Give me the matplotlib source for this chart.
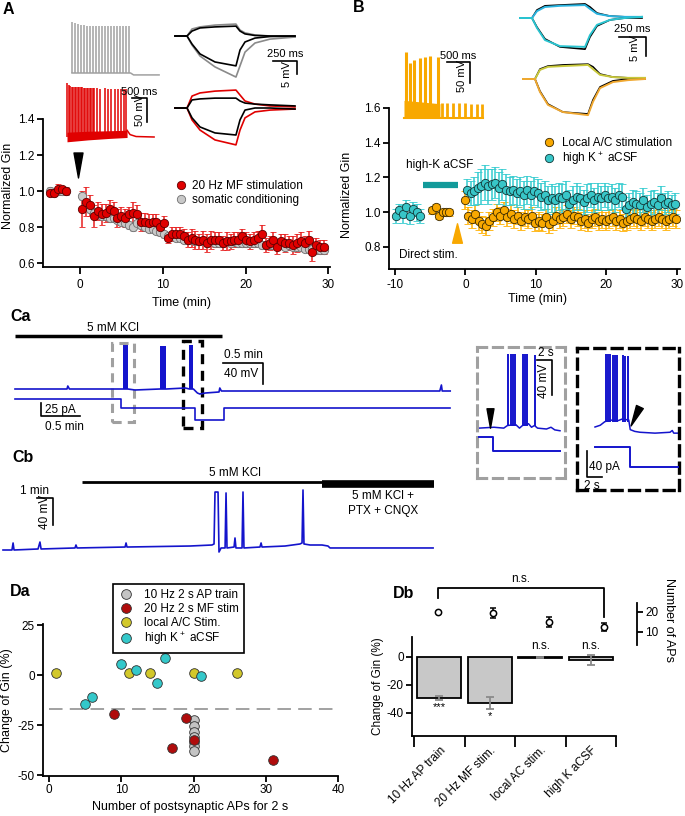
import numpy as np
import matplotlib
matplotlib.use('Agg')
import matplotlib.pyplot as plt
from matplotlib.lines import Line2D
from matplotlib.markers import MarkerStyle
from matplotlib.path import Path
from matplotlib.transforms import Affine2D

plt.rcParams['font.family'] = ['Liberation Sans', 'DejaVu Sans']
plt.rcParams['font.size'] = 8.5
plt.rcParams['mathtext.default'] = 'regular'
plt.rcParams['axes.unicode_minus'] = False
plt.rcParams['axes.linewidth'] = 1.3
plt.rcParams['xtick.major.width'] = 1.3
plt.rcParams['ytick.major.width'] = 1.3
plt.rcParams['xtick.major.size'] = 4
plt.rcParams['ytick.major.size'] = 4

# === A: normalized Gin (20 Hz MF vs somatic conditioning) ===
a_pre_t = [-3.65, -3.15, -2.65, -2.15, -1.65]
a_mf_pre = [0.99, 0.99, 1.01, 1.01, 1.00]
a_mf_pre_err = [0.02, 0.02, 0.03, 0.02, 0.02]
a_som_pre = [1.00, 0.99, 1.00, 1.00, 1.00]
a_mf_post = [
    0.90, 0.94, 0.92, 0.86, 0.89, 0.87, 0.88, 0.90, 0.89, 0.85,
    0.86, 0.85, 0.87, 0.88, 0.87, 0.83, 0.83, 0.82, 0.83, 0.83,
    0.80, 0.82, 0.74, 0.76, 0.76, 0.76, 0.75, 0.73, 0.74, 0.73,
    0.72, 0.73, 0.71, 0.73, 0.73, 0.73, 0.71, 0.72, 0.72, 0.73,
    0.73, 0.75, 0.73, 0.72, 0.73, 0.74, 0.76, 0.70, 0.71, 0.73,
    0.69, 0.72, 0.71, 0.71, 0.70, 0.71, 0.72, 0.71, 0.73, 0.66,
    0.70, 0.69, 0.69]
a_mf_post_err = [
    0.10, 0.08, 0.06, 0.06, 0.05, 0.06, 0.05, 0.05, 0.05, 0.05,
    0.05, 0.05, 0.04, 0.06, 0.05, 0.05, 0.05, 0.05, 0.04, 0.04,
    0.04, 0.04, 0.03, 0.04, 0.04, 0.04, 0.04, 0.04, 0.05, 0.05,
    0.04, 0.05, 0.05, 0.05, 0.04, 0.04, 0.04, 0.05, 0.04, 0.04,
    0.04, 0.04, 0.04, 0.04, 0.04, 0.04, 0.05, 0.04, 0.04, 0.04,
    0.04, 0.04, 0.05, 0.04, 0.05, 0.05, 0.05, 0.04, 0.05, 0.05,
    0.04, 0.04, 0.04]
a_som_post = [
    0.97, 0.93, 0.90, 0.88, 0.87, 0.86, 0.86, 0.85, 0.85, 0.84,
    0.83, 0.82, 0.81, 0.80, 0.82, 0.81, 0.80, 0.79, 0.79, 0.78,
    0.77, 0.76, 0.75, 0.75, 0.74, 0.74, 0.73, 0.73, 0.73, 0.72,
    0.72, 0.72, 0.71, 0.72, 0.71, 0.71, 0.71, 0.72, 0.71, 0.72,
    0.71, 0.71, 0.71, 0.71, 0.71, 0.71, 0.70, 0.70, 0.70, 0.70,
    0.70, 0.70, 0.69, 0.70, 0.69, 0.69, 0.69, 0.68, 0.68, 0.68,
    0.67, 0.67, 0.67]
a_som_err = 0.02

# A insets: spike trains (ms, mV above baseline)
a_gray_spk_t = [0, 100, 200, 300, 400, 500, 600, 700, 800, 900,
                1000, 1100, 1200, 1300, 1400, 1500, 1600, 1700, 1800, 1900]
a_gray_spk_v = [106, 103, 101, 100, 99, 98, 98, 97, 97, 97,
                97, 97, 97, 97, 97, 97, 97, 97, 97, 97]
a_gray_base_t = [0, 1950, 2050, 2900]
a_gray_base_v = [0, 0, -4, -4]
a_red_spk_t = [0, 50, 100, 150, 200, 250, 300, 350, 400, 450, 500, 550, 600,
               650, 700, 750, 800, 850, 900, 1000, 1100, 1250, 1380, 1480,
               1600, 1700, 1800, 1900, 1960]
a_red_spk_v = [112, 108, 106, 105, 104, 104, 103, 103, 103, 103, 103, 102, 102,
               102, 102, 102, 101, 101, 101, 101, 100, 101, 100, 100,
               100, 100, 100, 99, 99]
a_red_band_t = [0, 700, 1400, 2000]
a_red_band_lo = [-10, -6, -3, -1]
a_red_band_hi = [10, 12, 13, 14]
a_red_tail_t = [2000, 2100, 2300, 2900]
a_red_tail_v = [14, 5, 1, 0]

# A insets: step responses (ms, mV)
a_step_t = [0, 125, 177, 260, 416, 634, 676, 728, 832, 988, 1248]
a_gray_up = [0, 0, 2.7, 3.5, 4.2, 4.6, 2.3, 1.2, 0.4, 0, -0.4]
a_gray_dn = [0, 0, -3.5, -7.7, -11.9, -15.8, -11.5, -6.2, -2.7, -1.2, -0.4]
a_ctl1_up = [0, 0, 1.9, 3.1, 3.5, 3.8, 1.9, 0.8, 0.2, 0, 0]
a_ctl1_dn = [0, 0, -3.1, -6.9, -10.0, -11.5, -5.4, -2.3, -0.8, -0.2, 0]
a_red_up = [0, 0, 4.6, 5.8, 6.5, 6.9, 5.0, 2.7, 1.5, 0.8, 0.4]
a_red_dn = [0, 0, -4.6, -8.5, -12.3, -14.2, -8.5, -3.8, -1.5, -0.8, -0.4]
a_ctl2_up = [0, 0, 3.1, 3.5, 3.8, 3.8, 2.7, 1.9, 1.5, 1.2, 0.8]
a_ctl2_dn = [0, 0, -3.8, -7.3, -9.6, -10.4, -4.6, -0.8, 0, 0, -0.4]

# === B: local A/C stimulation vs high K+ aCSF ===
b_cyan_pre = [0.98, 1.01, 0.99, 1.03, 0.98, 1.02, 1.00, 0.98]
b_cyan_pre_err = [0.04, 0.04, 0.05, 0.04, 0.05, 0.04, 0.05, 0.04]
b_orange_pre = [1.01, 1.03, 0.98, 1.00, 1.00, 1.00]
b_orange_pre_err = [0.02, 0.02, 0.02, 0.02, 0.02, 0.02]
b_cyan_post = [
    1.13, 1.11, 1.12, 1.14, 1.15, 1.17, 1.15, 1.16, 1.17, 1.14,
    1.16, 1.13, 1.12, 1.13, 1.11, 1.12, 1.10, 1.13, 1.10, 1.12,
    1.11, 1.09, 1.10, 1.07, 1.08, 1.07, 1.09, 1.08, 1.10, 1.05,
    1.07, 1.09, 1.08, 1.06, 1.08, 1.10, 1.07, 1.09, 1.08, 1.10,
    1.08, 1.09, 1.07, 1.10, 1.09, 1.02, 1.04, 1.06, 1.05, 1.04,
    1.07, 1.03, 1.05, 1.06, 1.04, 1.08, 1.05, 1.06, 1.04, 1.05]
b_cyan_post_err = [
    0.06, 0.07, 0.08, 0.09, 0.10, 0.10, 0.10, 0.09, 0.09, 0.09,
    0.09, 0.09, 0.08, 0.08, 0.08, 0.08, 0.08, 0.08, 0.08, 0.08,
    0.08, 0.08, 0.08, 0.08, 0.08, 0.08, 0.08, 0.08, 0.08, 0.08,
    0.08, 0.08, 0.07, 0.07, 0.08, 0.07, 0.07, 0.08, 0.07, 0.07,
    0.07, 0.07, 0.07, 0.07, 0.07, 0.07, 0.07, 0.07, 0.07, 0.07,
    0.07, 0.07, 0.07, 0.07, 0.07, 0.07, 0.06, 0.06, 0.06, 0.06]
b_orange_post = [
    1.07, 0.98, 0.96, 0.99, 0.95, 0.93, 0.92, 0.95, 0.97, 1.00,
    0.98, 1.01, 0.97, 0.99, 0.96, 0.98, 0.95, 0.97, 0.96, 0.98,
    0.94, 0.95, 0.94, 0.97, 0.93, 0.95, 0.98, 0.96, 0.97, 0.99,
    0.96, 0.98, 0.97, 0.95, 0.96, 0.94, 0.96, 0.97, 0.95, 0.96,
    0.95, 0.96, 0.97, 0.95, 0.96, 0.94, 0.95, 0.96, 0.97, 0.96,
    0.95, 0.97, 0.96, 0.95, 0.96, 0.97, 0.96, 0.95, 0.96, 0.97,
    0.96]
b_orange_post_err = 0.05
b_highk_period = (-6.0, -1.0)

# B insets
b_spk_t = [43, 130, 217, 348, 456, 564, 738]
b_spk_v = [157, 131, 138, 143, 145, 148, 145]
b_band_t = [0, 780]
b_band_v = [42, 34]
b_osc_t = [825, 933, 1063, 1193, 1324, 1454, 1584, 1693]
b_osc_v = [36, 36, 35, 35, 35, 34, 34, 34]
b_step_t = [0, 111, 157, 231, 370, 602, 648, 713, 833, 972, 1130]
b_cyan_up = [0, 0, 1.8, 2.9, 3.2, 3.4, 2.4, 1.1, 0.5, 0.3, 0.3]
b_ctl1_up = [0, 0, 2.1, 3.2, 3.4, 3.7, 2.9, 1.3, 0.5, 0.3, 0.3]
b_cyan_dn = [0, 0, -2.6, -5.8, -7.4, -7.6, -4.5, -1.8, -0.5, 0, 0.3]
b_ctl1_dn = [0, 0, -2.4, -5.5, -7.6, -8.2, -5.0, -2.1, -0.5, 0, 0]
b_yel_up = [0, 0, 2.4, 3.2, 3.4, 3.7, 2.6, 1.1, 0.5, 0.3, 0.3]
b_ctl2_up = [0, 0, 2.6, 3.4, 3.7, 3.9, 3.2, 1.3, 0.5, 0.3, 0]
b_org_dn = [0, 0, -3.4, -6.8, -8.7, -9.5, -6.0, -2.4, -0.8, -0.3, 0]
b_ctl2_dn = [0, 0, -3.2, -6.6, -8.7, -9.2, -5.5, -2.1, -0.5, 0, 0]

# === Ca: high K trace (min, mV / pA) ===
ca_v_t = [0, 0.65, 0.66, 0.68, 1.19, 1.35, 1.41, 1.50, 1.81, 1.89, 2.13, 2.18,
          2.23, 2.28, 2.31, 2.38, 2.55, 2.56, 2.58, 2.60, 3.56, 5.31, 5.33, 5.34, 5.44]
ca_v = [0, 0, 5.7, 0, 0, 0, 0, -1.9, 0, 0, 1.9, 0,
        0, -7.6, -9.5, -7.6, -5.7, 1.9, -3.8, -3.8, -3.8, -3.8, 7.6, -3.8, -3.8]
ca_burst_start = [1.35, 1.81, 2.18]
ca_burst_end = [1.41, 1.89, 2.23]
ca_burst_peak = [84, 82, 84]
ca_i_t = [0, 1.325, 1.325, 2.25, 2.25, 2.61, 2.61, 5.44]
ca_i = [0, 0, -17, -17, -40, -40, -17, -17]
ca_kcl = (0, 2.59)
ca_zoom_gray = (1.21, 1.49)
ca_zoom_black = (2.10, 2.34)

# Ca zoomed insets (s, mV / pA)
cz1_base_t = [0, 2.0, 3.3, 3.8, 4.9, 5.4, 5.8, 6.6, 7.0, 7.4, 7.8, 9.0, 9.6, 10.1, 10.8]
cz1_base_v = [1, 2, 1, 4, 5, 1, 4, 6, 2, 4, 1, 0, 2, -1, -2]
cz1_spk_t = [3.87, 4.27, 4.53, 4.80, 5.87, 6.13, 6.40, 7.47]
cz1_spk_v = [86, 86, 85, 85, 86, 86, 85, 84]
cz1_i_t = [0, 1.87, 1.87, 10.8]
cz1_i = [0, 0, -21, -21]
cz2_base_t = [0, 0.7, 1.3, 2.0, 3.0, 3.6, 4.5, 4.7, 5.3, 6.0, 8.0, 10.0, 10.3, 10.5, 11.0]
cz2_base_v = [0, 2, 6, 8, 7, 9, 8, -3, -5, -6, -7, -6, -4, -7, -7]
cz2_spk_t = [1.47, 1.73, 2.00, 2.40, 2.67, 2.93, 3.73, 4.00, 4.40]
cz2_spk_v = [83, 83, 83, 82, 82, 82, 82, 81, 81]
cz2_i_t = [0, 4.67, 4.67, 11.0]
cz2_i = [0, 0, -31, -31]

# === Cb: trace (min, mV) ===
cb_t = [0, 0.56, 0.63, 0.69, 2.19, 2.31, 2.38, 4.5, 4.56, 4.63, 7.63, 7.69, 7.75,
        11.69, 13.06, 13.19, 13.25, 13.44, 13.5, 13.63, 13.88, 13.94, 14.0, 14.44,
        14.5, 14.56, 14.94, 15.0, 15.06, 16.06, 16.13, 16.19, 17.63, 18.56, 18.69,
        18.75, 18.81, 19.19, 19.94, 20.31, 20.44, 26.88]
cb_v = [0, 0, 10.4, 0, 1.5, 11.8, 1.5, 3.0, 7.4, 3.0, 4.4, 10.4, 4.4,
        5.9, 7.4, 8.9, 85.8, 85.8, -3.0, 3.0, 3.0, 84.4, 3.0, 4.4,
        17.8, 3.0, 3.0, 85.8, 3.0, 4.4, 10.4, 4.4, 5.9, 8.9, 10.4,
        88.8, 8.9, 7.4, 7.4, 5.9, 3.0, 3.0]
cb_kcl = (4.94, 19.94)
cb_kcl_ptx = (19.94, 26.94)

# === Da: scatter ===
da_ap_gray = [20, 20, 20, 20, 20, 20, 20]
da_gin_gray = [-22.5, -25.3, -28.3, -30.8, -33.3, -35.3, -37.8]
da_ap_red = [9, 19, 20, 17, 31]
da_gin_red = [-19.5, -21.5, -32.5, -36.5, -42.5]
da_ap_yel = [1, 11, 14, 20, 26]
da_gin_yel = [0.8, 0.8, 0.8, 0.8, 0.8]
da_ap_cyan = [10, 12, 16, 15, 21, 5, 6]
da_gin_cyan = [5.3, 2.5, 8.3, -3.8, -0.3, -14.7, -10.8]
da_threshold = -17

# === Db: bars ===
db_groups = ['10 Hz AP train', '20 Hz MF stim.', 'local AC stim.', 'high K aCSF']
db_change = [-29.3, -32.9, -0.7, -2.3]
db_change_err = [1.5, 4.5, 0.4, 3.5]
db_sig = ['***', '*', 'n.s.', 'n.s.']
db_aps = [20, 19.5, 15, 12.5]
db_aps_err = [0, 2.5, 2.5, 1.8]

# ---------------------------------------------------------------
W, H = 685, 816
fig = plt.figure(figsize=(W / 100, H / 100), dpi=100)

BLUE = '#1414CC'
RED = '#E00000'
ORANGE = '#F8A800'
CYAN = '#38C6C8'


def box(x0, y0, x1, y1):
    return fig.add_axes([x0 / W, 1 - y1 / H, (x1 - x0) / W, (y1 - y0) / H])


def inset(x0, y0, x1, y1, tx, vy, sx, sy):
    # sx, sy = data units per pixel, (tx, vy) = pixel of data origin
    ax = box(x0, y0, x1, y1)
    ax.set_xlim((x0 - tx) * sx, (x1 - tx) * sx)
    ax.set_ylim((vy - y1) * sy, (vy - y0) * sy)
    ax.axis('off')
    ax.patch.set_visible(False)
    return ax


def label(x, y, s):
    fig.text(x / W, 1 - y / H, s, fontsize=11.5, fontweight='bold', va='center', ha='left')


def style_axes(ax):
    for s in ['top', 'right']:
        ax.spines[s].set_visible(False)
    ax.tick_params(direction='out', length=4, labelsize=8.5, pad=2)


arrow_path = Path([(-0.36, 1), (0.36, 1), (0, -1), (-0.36, 1)],
                  [Path.MOVETO, Path.LINETO, Path.LINETO, Path.CLOSEPOLY])


def arrow(rot=0):
    return MarkerStyle(arrow_path, transform=Affine2D().rotate_deg(rot))


# ---------------- Panel A ----------------
label(3, 9, 'A')
axA = box(43, 119, 330, 267)
style_axes(axA)
axA.tick_params(axis='x', length=5, pad=4)
t_post = np.linspace(0.3, 29.5, len(a_mf_post))
eb = dict(fmt='o', ms=6, capsize=2.5, elinewidth=1.1, capthick=1.1, mew=0.6)
axA.errorbar(a_pre_t, a_som_pre, yerr=a_som_err, color='#A8A8A8', mfc='#C8C8C8',
             mec='#707070', **eb)
axA.errorbar(t_post, a_som_post, yerr=a_som_err, color='#A8A8A8', mfc='#C8C8C8',
             mec='#707070', **eb)
axA.errorbar(a_pre_t, a_mf_pre, yerr=a_mf_pre_err, color='#E82020', mfc=RED,
             mec='#600000', **eb)
axA.errorbar(t_post, a_mf_post, yerr=a_mf_post_err, color='#E82020', mfc=RED,
             mec='#600000', **eb)
axA.plot(-0.2, 1.145, marker=arrow(), ms=18, color='k', ls='none', clip_on=False)
axA.set_xlim(-4.45, 30.2)
axA.set_ylim(0.578, 1.4)
axA.set_xticks([0, 10, 20, 30])
axA.set_yticks([0.6, 0.8, 1.0, 1.2, 1.4])
axA.set_yticklabels(['0.6', '0.8', '1.0', '1.2', '1.4'])
axA.set_xlabel('Time (min)', fontsize=9)
axA.xaxis.set_label_coords(0.484, -0.2)
axA.set_ylabel('Normalized Gin', fontsize=9)
axA.yaxis.set_label_coords(-0.1, 0.55)
hA = [Line2D([], [], marker='o', ls='none', ms=6, mfc=RED, mec='#600000', mew=0.6),
      Line2D([], [], marker='o', ls='none', ms=6, mfc='#C8C8C8', mec='#707070', mew=0.6)]
fig.legend(hA, ['20 Hz MF stimulation', 'somatic conditioning'], loc='upper left',
           bbox_to_anchor=(170 / W, 1 - 175 / H), frameon=False, fontsize=8.5,
           handlelength=1.0, handletextpad=0.5, labelspacing=0.2, borderaxespad=0)

# A inset: spike trains
ins = inset(66, 15, 165, 80, 72, 73, 33.3, 2.08)
ins.vlines(a_gray_spk_t, 0, a_gray_spk_v, color='#A0A0A0', lw=1.1)
ins.plot(a_gray_base_t, a_gray_base_v, color='#A0A0A0', lw=1.1)
ins = inset(62, 78, 170, 150, 67, 137, 33.3, 2.08)
ins.fill_between(a_red_band_t, a_red_band_lo, a_red_band_hi, color=RED, lw=0)
ins.vlines(a_red_spk_t, 0, a_red_spk_v, color=RED, lw=1.1)
ins.plot(a_red_tail_t, a_red_tail_v, color=RED, lw=1.1)
ins.plot([2165, 2665, 2665], [81, 81, 31], color='k', lw=1.2)
ins.text(2415, 84, '500 ms', ha='center', va='bottom', fontsize=8)
ins.text(2590, 56, '50 mV', ha='right', va='center', rotation=90, fontsize=8)

# A inset: step responses
ins = inset(170, 15, 300, 84, 175, 36, 10.4, 0.385)
for v, c in [(a_gray_up, '#8A8A8A'), (a_gray_dn, '#8A8A8A'),
             (a_ctl1_up, 'k'), (a_ctl1_dn, 'k')]:
    ins.plot(a_step_t, v, color=c, lw=1.2)
ins.plot([1019, 1269, 1269], [-9.6, -9.6, -14.6], color='k', lw=1.2)
ins.text(1144, -8.8, '250 ms', ha='center', va='bottom', fontsize=8)
ins.text(1215, -14.5, '5 mV', ha='right', va='center', rotation=90, fontsize=8)
ins = inset(170, 84, 300, 150, 175, 108, 10.4, 0.385)
for v, c in [(a_red_up, RED), (a_red_dn, RED), (a_ctl2_up, 'k'), (a_ctl2_dn, 'k')]:
    ins.plot(a_step_t, v, color=c, lw=1.2)

# ---------------- Panel B ----------------
label(353, 8, 'B')
axB = box(389, 108, 680, 269)
style_axes(axB)
axB.tick_params(axis='x', length=4.5, pad=3)
t_cpre = np.linspace(-9.9, -6.4, len(b_cyan_pre))
t_opre = np.linspace(-4.7, -2.3, len(b_orange_pre))
t_cpost = np.linspace(0.25, 29.75, len(b_cyan_post))
t_opost = np.linspace(-0.1, 29.9, len(b_orange_post))
ebB = dict(fmt='o', ms=6, capsize=2.8, elinewidth=1.1, capthick=1.1, mew=0.6)
axB.errorbar(t_opre, b_orange_pre, yerr=b_orange_pre_err, color='#FFB000', mfc=ORANGE,
             mec='#3A2A00', **ebB)
axB.errorbar(t_opost, b_orange_post, yerr=b_orange_post_err, color='#FFB000', mfc=ORANGE,
             mec='#3A2A00', **ebB)
axB.errorbar(t_cpre, b_cyan_pre, yerr=b_cyan_pre_err, color='#36CCD0', mfc=CYAN,
             mec='#123838', **ebB)
axB.errorbar(t_cpost, b_cyan_post, yerr=b_cyan_post_err, color='#36CCD0', mfc=CYAN,
             mec='#123838', **ebB)
axB.plot(b_highk_period, [1.157, 1.157], color='#129A9A', lw=4.5, solid_capstyle='butt')
axB.text(-3.6, 1.27, 'high-K aCSF', ha='center', va='center', fontsize=8.5)
axB.text(-5.3, 0.754, 'Direct stim.', ha='center', va='center', fontsize=8.5)
axB.plot(-1.2, 0.88, marker=MarkerStyle(arrow_path, transform=Affine2D().rotate_deg(180).scale(1.4, 1)),
         ms=14, color=ORANGE, ls='none')
axB.set_xlim(-10.85, 30.43)
axB.set_ylim(0.673, 1.6)
axB.set_xticks([-10, 0, 10, 20, 30])
axB.set_yticks([0.8, 1.0, 1.2, 1.4, 1.6])
axB.set_yticklabels(['0.8', '1.0', '1.2', '1.4', '1.6'])
axB.set_xlabel('Time (min)', fontsize=9)
axB.xaxis.set_label_coords(0.509, -0.15)
axB.set_ylabel('Normalized Gin', fontsize=9)
axB.yaxis.set_label_coords(-0.125, 0.46)
hB = [Line2D([], [], marker='o', ls='none', ms=6, mfc=ORANGE, mec='#3A2A00', mew=0.6),
      Line2D([], [], marker='o', ls='none', ms=6, mfc=CYAN, mec='#123838', mew=0.6)]
fig.legend(hB, ['Local A/C stimulation', 'high K$^+$ aCSF'], loc='upper left',
           bbox_to_anchor=(538 / W, 1 - 132 / H), frameon=False, fontsize=8.5,
           handlelength=1.0, handletextpad=0.6, labelspacing=0.15, borderaxespad=0)

# B insets
ins = inset(400, 45, 492, 122, 404, 118, 21.7, 2.38)
ins.fill_between(b_band_t, 0, b_band_v, color=ORANGE, lw=0)
ins.vlines(b_spk_t, 0, b_spk_v, color=ORANGE, lw=2.2)
ins.vlines(b_osc_t, 0, b_osc_v, color=ORANGE, lw=2.0)
ins.plot([0, 1720], [0, 0], color=ORANGE, lw=1.5)
ins.plot([933, 1433, 1433], [133, 133, 83], color='k', lw=1.2)
ins.text(1183, 136, '500 ms', ha='center', va='bottom', fontsize=8)
ins.text(1360, 100, '50 mV', ha='right', va='center', rotation=90, fontsize=8)

ins = inset(515, 0, 652, 60, 520, 18, 9.26, 0.263)
ins.plot(b_step_t, b_ctl1_up, color='k', lw=1.2)
ins.plot(b_step_t, b_ctl1_dn, color='k', lw=1.2)
ins.plot(b_step_t, b_cyan_up, color='#2AB4E0', lw=1.4)
ins.plot(b_step_t, b_cyan_dn, color='#2AC4D0', lw=1.4)
ins.plot([917, 1167, 1167], [-5.0, -5.0, -10.0], color='k', lw=1.2)
ins.text(1042, -4.3, '250 ms', ha='center', va='bottom', fontsize=8)
ins.text(1115, -7.8, '5 mV', ha='right', va='center', rotation=90, fontsize=8)
ins = inset(518, 60, 652, 122, 523, 79, 9.26, 0.263)
ins.plot(b_step_t, b_ctl2_up, color='k', lw=1.2)
ins.plot(b_step_t, b_ctl2_dn, color='k', lw=1.2)
ins.plot(b_step_t, b_yel_up, color='#C8C83A', lw=1.4)
ins.plot(b_step_t, b_org_dn, color='#F0A830', lw=1.4)

# ---------------- Panel Ca ----------------
label(10, 317, 'Ca')
axCv = inset(10, 325, 455, 440, 15, 389, 1 / 80, 1.9)
axCi = inset(10, 325, 455, 440, 15, 399, 1 / 80, 1.92)
axCv.plot(ca_kcl, [100.7, 100.7], color='k', lw=2.5, solid_capstyle='butt')
axCv.text(1.23, 116, '5 mM KCl', ha='center', va='center', fontsize=8.5)
axCv.plot(ca_v_t, ca_v, color=BLUE, lw=1.2)
for s, e, p in zip(ca_burst_start, ca_burst_end, ca_burst_peak):
    axCv.fill_between([s, e], 0, p, color=BLUE, lw=0)
axCi.plot(ca_i_t, ca_i, color=BLUE, lw=1.2)
axCv.axvspan(*ca_zoom_gray, ymin=0.157, ymax=0.843, fill=False, ec='#A0A0A0', lw=2.2,
             ls=(0, (3, 2)))
axCv.axvspan(*ca_zoom_black, ymin=0.104, ymax=0.861, fill=False, ec='k', lw=2.4,
             ls=(0, (3, 2)))
axCv.plot([2.6, 3.1, 3.1], [49.4, 49.4, 9.4], color='k', lw=1.2)
axCv.text(2.85, 53, '0.5 min', ha='center', va='bottom', fontsize=8.5)
axCv.text(3.04, 28.5, '40 mV', ha='right', va='center', fontsize=8.5)
axCi.plot([0.325, 0.325, 0.81], [-7.6, -32.6, -32.6], color='k', lw=1.2)
axCi.text(0.38, -21, '25 pA', ha='left', va='center', fontsize=8.5)
axCi.text(0.38, -54, '0.5 min', ha='left', va='center', fontsize=8.5)

# Ca zoom insets
z1 = box(477, 347, 565, 478)
z1.set_xticks([])
z1.set_yticks([])
z1.patch.set_visible(False)
for s in z1.spines.values():
    s.set_linestyle((0, (3, 2.2)))
    s.set_edgecolor('#A0A0A0')
    s.set_linewidth(2.2)
z1.set_xlim((477 - 479) / 7.5, (565 - 479) / 7.5)
z1.set_ylim((429 - 478) * 1.14, (429 - 347) * 1.14)
z1i = inset(477, 347, 565, 478, 479, 437, 1 / 7.5, 1.54)
z1.plot(cz1_base_t, cz1_base_v, color=BLUE, lw=1.1)
z1.vlines(cz1_spk_t, 3, cz1_spk_v, color=BLUE, lw=1.4)
z1.plot(1.47, 13, marker=arrow(), ms=14, color='k', ls='none')
z1i.plot(cz1_i_t, cz1_i, color=BLUE, lw=1.4)
z1.plot([7.73, 9.73, 9.73], [78.7, 78.7, 38.7], color='k', lw=1.2)
z1.text(8.9, 80, '2 s', ha='center', va='bottom', fontsize=8.5)
z1.text(9.5, 55, '40 mV', ha='right', va='center', rotation=90, fontsize=8.5)

z2 = box(577, 348, 679, 490)
z2.set_xticks([])
z2.set_yticks([])
z2.patch.set_visible(False)
for s in z2.spines.values():
    s.set_linestyle((0, (3, 2.2)))
    s.set_edgecolor('k')
    s.set_linewidth(2.4)
z2.set_xlim((577 - 595) / 7.5, (679 - 595) / 7.5)
z2.set_ylim((427 - 490) * 1.14, (427 - 348) * 1.14)
z2i = inset(577, 348, 679, 490, 595, 447, 1 / 7.5, 1.54)
z2.plot(cz2_base_t, cz2_base_v, color=BLUE, lw=1.1)
z2.vlines(cz2_spk_t, 6, cz2_spk_v, color=BLUE, lw=1.4)
z2.plot(5.3, 13, marker=arrow(-25), ms=15, color='k', ls='none')
z2i.plot(cz2_i_t, cz2_i, color=BLUE, lw=1.4)
z2i.plot([-1.07, -1.07, 0.93], [-6.2, -46.2, -46.2], color='k', lw=1.2)
z2i.text(-0.85, -30.8, '40 pA', ha='left', va='center', fontsize=8.5)
z2i.text(-0.4, -60, '2 s', ha='center', va='center', fontsize=8.5)

# ---------------- Panel Cb ----------------
label(12, 457, 'Cb')
axCb = inset(0, 470, 450, 560, 3, 550, 1 / 16, 1.48)
axCb.plot(cb_kcl, [100.6, 100.6], color='k', lw=2.0, solid_capstyle='butt')
axCb.plot(cb_kcl_ptx, [98.3, 98.3], color='k', lw=5.5, solid_capstyle='butt')
axCb.text(14.5, 113.5, '5 mM KCl', ha='center', va='center', fontsize=8.5)
axCb.text(23.75, 69, '5 mM KCl +\nPTX + CNQX', ha='center', va='center', fontsize=8.5,
          linespacing=1.3)
axCb.plot(cb_t, cb_v, color=BLUE, lw=1.2)
axCb.plot([2.13, 3.13, 3.13], [77, 77, 37], color='k', lw=1.2)
axCb.text(2.0, 79, '1 min', ha='center', va='bottom', fontsize=8.5)
axCb.text(3.0, 56, '40 mV', ha='right', va='center', rotation=90, fontsize=8.5)

# ---------------- Panel Da ----------------
label(10, 592, 'Da')
axD = box(43, 624, 338, 776)
style_axes(axD)
axD.axhline(da_threshold, color='#9A9A9A', lw=1.3, ls=(0, (7.5, 4)), xmin=0.02, xmax=1)
sc = dict(s=48, edgecolors='#303030', linewidths=0.6, zorder=3, clip_on=False)
axD.scatter(da_ap_gray, da_gin_gray, c='#C4C4C4', **sc)
axD.scatter(da_ap_red, da_gin_red, c='#B00C0C', **sc)
axD.scatter(da_ap_yel, da_gin_yel, c='#D2C82A', **sc)
axD.scatter(da_ap_cyan, da_gin_cyan, c='#34C8CA', **sc)
axD.set_xlim(-0.85, 40)
axD.set_ylim(-50.5, 25.5)
axD.set_xticks([0, 10, 20, 30, 40])
axD.set_yticks([25, 0, -25, -50])
axD.set_xlabel('Number of postsynaptic APs for 2 s', fontsize=9)
axD.xaxis.set_label_coords(0.5, -0.165)
axD.set_ylabel('Change of Gin (%)', fontsize=9)
axD.yaxis.set_label_coords(-0.1, 0.5)
hD = [Line2D([], [], marker='o', ls='none', ms=7, mfc=c, mec='#303030', mew=0.6)
      for c in ['#C4C4C4', '#B00C0C', '#D2C82A', '#34C8CA']]
lg = fig.legend(hD, ['10 Hz 2 s AP train', '20 Hz 2 s MF stim', 'local A/C Stim.',
                     'high K$^+$ aCSF'],
                loc='upper left', bbox_to_anchor=(113 / W, 1 - 584 / H), frameon=True,
                fancybox=False, edgecolor='k', framealpha=1, fontsize=8.5,
                handlelength=1.3, handletextpad=0.9, labelspacing=0.15, borderpad=0.45,
                borderaxespad=0)
lg.get_frame().set_linewidth(1.2)

# ---------------- Panel Db ----------------
label(393, 594, 'Db')
axE = box(412, 637, 616, 736)
style_axes(axE)
cx = np.arange(len(db_groups)) + 0.5
axE.bar(cx, db_change, width=0.87, color='#C8C8C8', edgecolor='k', lw=1.3, zorder=2)
axE.errorbar(cx, db_change, yerr=db_change_err, fmt='none', ecolor='#8A8A8A',
             elinewidth=1.3, capsize=3, capthick=1.3, zorder=3)
for x, v, e, s in zip(cx, db_change, db_change_err, db_sig):
    if s == 'n.s.':
        axE.text(x, 3.5, s, ha='center', va='bottom', fontsize=8.5)
    else:
        axE.text(x, v - e - 1.5, s, ha='center', va='top', fontsize=8)
axE.set_xlim(-0.04, 4.0)
axE.set_ylim(-56.4, 14)
axE.spines['left'].set_bounds(-56.4, 14)
axE.set_yticks([0, -20, -40])
axE.set_xticks([0, 1, 2, 3, 4])
axE.set_xticklabels([])
axE.tick_params(axis='x', length=8)
axE.set_xticks(cx, minor=True)
axE.set_xticklabels(db_groups, minor=True, rotation=45, ha='right', va='top',
                    rotation_mode='anchor', fontsize=8.5)
axE.tick_params(axis='x', which='minor', length=0, pad=6)
axE.set_ylabel('Change of Gin (%)', fontsize=8.5)
axE.yaxis.set_label_coords(-0.135, 0.5)

axN = box(412, 580, 637, 646)
axN.patch.set_visible(False)
for s in ['top', 'left', 'bottom']:
    axN.spines[s].set_visible(False)
axN.spines['right'].set_bounds(3.5, 24.5)
axN.set_xlim(0.03, 4.1)
axN.set_ylim(3, 36)
axN.set_xticks([])
axN.yaxis.tick_right()
axN.set_yticks([10, 20])
axN.tick_params(axis='y', direction='out', length=4, labelsize=8.5, pad=2)
axN.errorbar(cx, db_aps, yerr=db_aps_err, fmt='o', ms=4.5, mfc='white', mec='k',
             mew=1.1, ecolor='k', elinewidth=1.1, capsize=2.5, capthick=1.1)
axN.plot([0.5, 0.5, 3.5, 3.5], [27, 32, 32, 17.5], color='k', lw=1.3)
axN.text(2.0, 33.5, 'n.s.', ha='center', va='bottom', fontsize=8.5)
fig.text(669 / W, 1 - 620 / H, 'Number of APs', rotation=-90, ha='center', va='center',
         fontsize=9)

fig.savefig('out.png', dpi=100)
